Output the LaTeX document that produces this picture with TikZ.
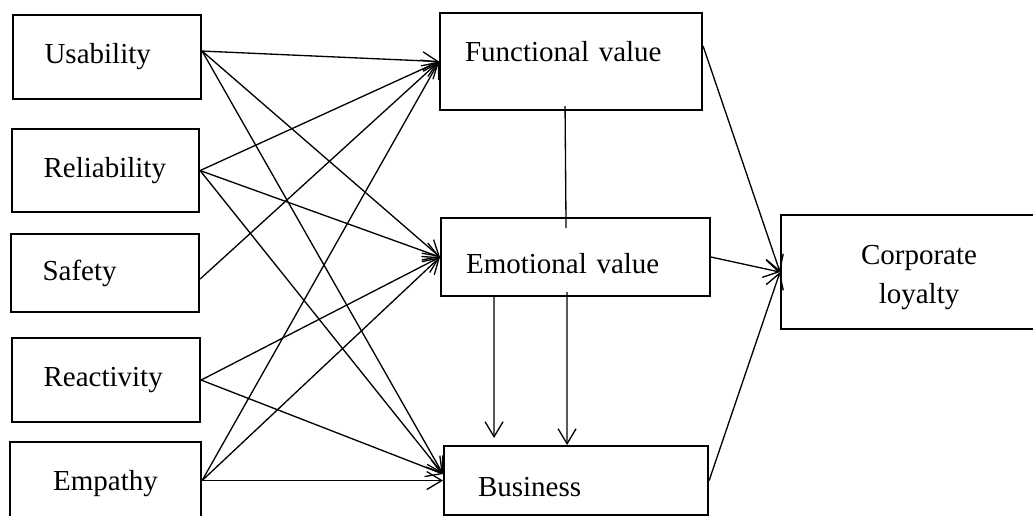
\documentclass[tikz,border=0pt]{standalone}
\usepackage{fontspec}
\setmainfont{Liberation Serif}
\usepackage{tikz}
\usetikzlibrary{arrows.meta,positioning,calc}

\begin{document}
\begin{tikzpicture}[
  box/.style={rectangle, draw, line width=1.2pt, anchor=north west, inner ysep=0pt, font=\fontsize{16.5}{22}\selectfont},
  leftbox/.style={box, inner xsep=0.63cm, text width=2.5cm, align=left, minimum height=1.68cm},
  link/.style={-{Straight Barb[length=0.3cm, width=0.36cm]}, line width=0.75pt}
]
\useasboundingbox (0,0) rectangle (20.66,-10.30);
% quality dimensions
\node[leftbox] (us) at (0.24,-0.28) {Usability};
\node[leftbox, text width=2.48cm, minimum height=1.66cm] (re) at (0.22,-2.56) {Reliability};
\node[leftbox, minimum height=1.56cm] (sa) at (0.20,-4.66) {Safety};
\node[leftbox] (rc) at (0.22,-6.74) {Reactivity};
\node[leftbox, text width=2.56cm, align=center] (em) at (0.18,-8.82) {Empathy};
% perceived value
\node[box, inner xsep=0.5cm, text width=4.24cm, align=left, text height=0.96cm, text depth=0.98cm] (fv) at (8.78,-0.24) {Functional value};
\node[box, inner xsep=0.5cm, text width=4.38cm, align=left, text height=1.10cm, text depth=0.46cm] (ev) at (8.80,-4.34) {Emotional value};
\node[box, inner xsep=0.68cm, text width=3.92cm, align=left, text height=1.00cm, text depth=0.38cm] (bz) at (8.86,-8.90) {Business};
% outcome
\node[box, minimum width=5.52cm, align=center, text height=1.76cm, text depth=0.52cm] (cl) at (15.60,-4.28) {Corporate\\loyalty};

\draw[link] ($(us.east)+(0,0.12)$) -- (fv.west);
\draw[link] ($(us.east)+(0,0.12)$) -- (ev.west);
\draw[link] ($(us.east)+(0,0.12)$) -- ($(bz.west)+(0,0.13)$);
\draw[link] (re.east) -- (fv.west);
\draw[link] (re.east) -- (ev.west);
\draw[link] (re.east) -- ($(bz.west)+(0,0.13)$);
\draw[link] ($(sa.east)+(0,-0.12)$) -- (fv.west);
\draw[link] (rc.east) -- (ev.west);
\draw[link] (rc.east) -- ($(bz.west)+(0,0.13)$);
\draw[link] (em.east |- bz.west) -- (fv.west);
\draw[link] (em.east |- bz.west) -- (ev.west);
\draw[link] (em.east |- bz.west) -- (bz.west);

\draw[line width=0.75pt] ($(fv.south)+(-0.12,0.1)$) -- ($(ev.north)+(-0.19,-0.22)$);
\draw[link] ($(ev.south)+(-1.63,0)$) -- ($(bz.north)+(-1.64,0.14)$);
\draw[link] ($(ev.south)+(-0.17,0.1)$) -- ($(bz.north)+(-0.18,0)$);

\draw[link] ($(fv.east)+(0,0.31)$) -- (cl.west);
\draw[link] (ev.east) -- (cl.west);
\draw[link] (bz.east) -- (cl.west);
\end{tikzpicture}
\end{document}
